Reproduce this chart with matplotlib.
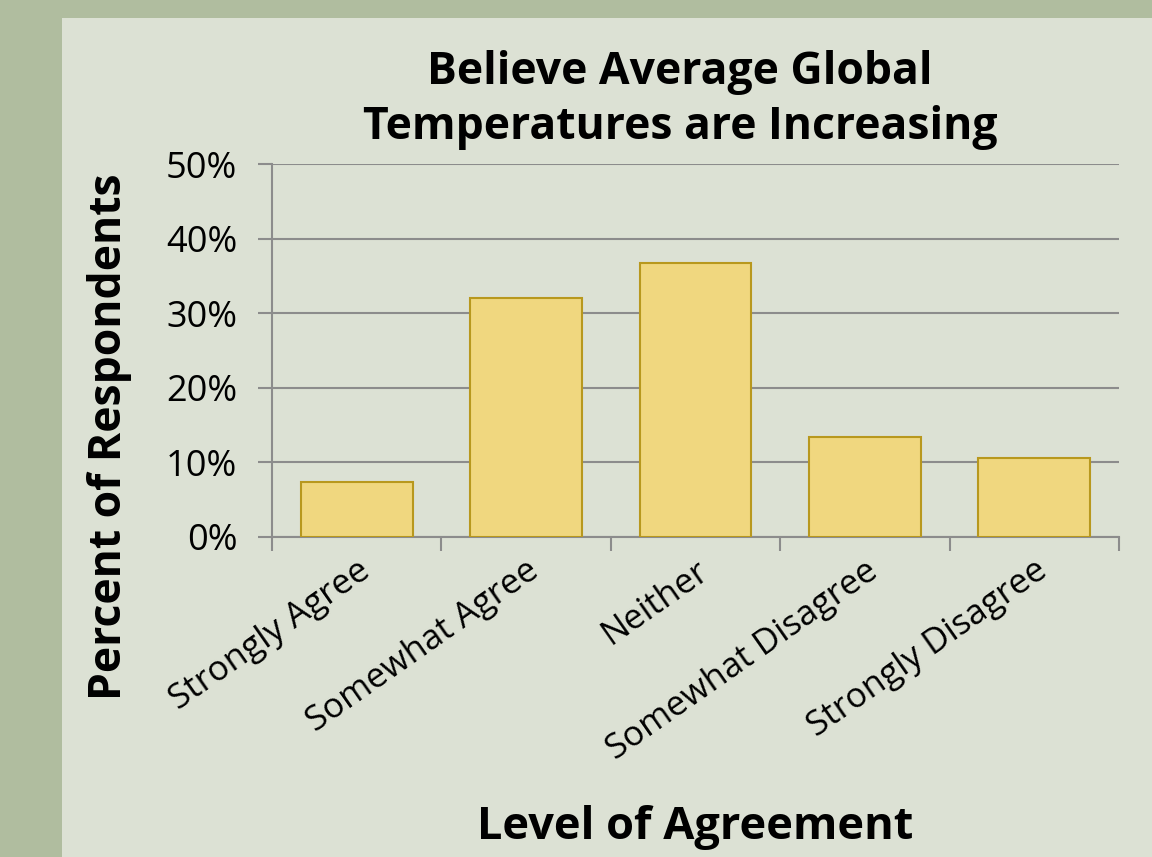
import matplotlib.pyplot as plt
from matplotlib.patches import Rectangle
from matplotlib.ticker import PercentFormatter

# data
categories = ['Strongly Agree', 'Somewhat Agree', 'Neither',
              'Somewhat Disagree', 'Strongly Disagree']
percents = [7.4, 32.0, 36.7, 13.4, 10.6]
y_ticks = [0, 10, 20, 30, 40, 50]

plt.rcParams['font.family'] = ['Open Sans', 'DejaVu Sans']

fig = plt.figure(figsize=(11.52, 8.57), dpi=100)
fig.patch.set_facecolor('#b0bd9f')
# lighter inner panel, behind the axes
fig.patches.append(Rectangle((62 / 1152, 0), 1, 1 - 18 / 857,
                             transform=fig.transFigure,
                             facecolor='#dce1d4', edgecolor='none', zorder=-5))

ax = fig.add_axes([272 / 1152, 1 - 537 / 857, 847 / 1152, 373 / 857])
ax.set_facecolor('none')

x = range(len(categories))
ax.bar(x, percents, width=0.66, color='#f0d77f', edgecolor='#b8981e',
       linewidth=1.5, zorder=3)

ax.set_xlim(-0.5, len(categories) - 0.5)
ax.set_ylim(0, 50)
ax.set_yticks(y_ticks)
ax.yaxis.set_major_formatter(PercentFormatter(decimals=0))
ax.grid(axis='y', color='#8c8c8c', linewidth=1.5, zorder=0)
ax.set_axisbelow(True)

# category ticks sit on the boundaries, labels at centres
ax.set_xticks([i - 0.5 for i in range(len(categories) + 1)])
ax.set_xticklabels([])
ax.set_xticks(list(x), minor=True)
ax.set_xticklabels(categories, minor=True, rotation=35, ha='right',
                   rotation_mode='anchor', fontsize=25)
ax.tick_params(axis='x', which='minor', length=0, pad=12)
ax.tick_params(axis='x', which='major', length=10, width=1.5, color='#8c8c8c')
ax.tick_params(axis='y', length=10, width=1.5, color='#8c8c8c', labelsize=26, pad=15)

for side in ['top', 'right']:
    ax.spines[side].set_visible(False)
for side in ['left', 'bottom']:
    ax.spines[side].set_color('#8c8c8c')
    ax.spines[side].set_linewidth(1.5)

fig.text(680 / 1152, 1 - 100 / 857, 'Believe Average Global\nTemperatures are Increasing',
         ha='center', va='center', fontsize=32, fontweight='bold', linespacing=1.3)
fig.text(110 / 1152, 1 - 437 / 857, 'Percent of Respondents', rotation=90,
         ha='center', va='center', fontsize=32, fontweight='bold')
fig.text(695 / 1152, 1 - 828 / 857, 'Level of Agreement',
         ha='center', va='center', fontsize=32.5, fontweight='bold')

fig.savefig('out.png', dpi=100, facecolor=fig.get_facecolor())
